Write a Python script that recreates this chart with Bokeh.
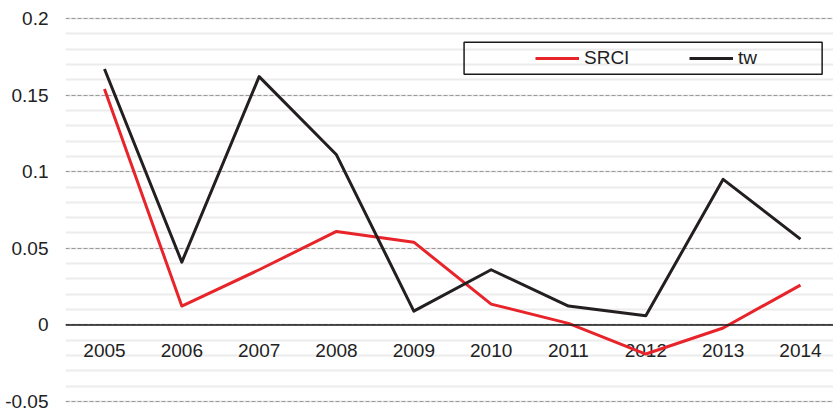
from bokeh.plotting import figure
from bokeh.models import (FixedTicker, NumeralTickFormatter, Span, Legend, LegendItem,
                          BoxAnnotation, ColumnDataSource)
from bokeh.core.properties import value
from bokeh.embed import file_html
from bokeh.resources import INLINE

years = [2005, 2006, 2007, 2008, 2009, 2010, 2011, 2012, 2013, 2014]
year_labels = [str(y) for y in years]
srci = [0.154, 0.0123, 0.036, 0.061, 0.054, 0.0136, 0.001, -0.019, -0.002, 0.026]
tw = [0.167, 0.041, 0.162, 0.111, 0.009, 0.036, 0.0123, 0.006, 0.095, 0.056]
major_ticks = [-0.05, 0.0, 0.05, 0.1, 0.15, 0.2]
minor_ticks = [round(-0.05 + 0.01 * i, 2) for i in range(26)]

FONT = "Liberation Sans"

p = figure(width=833, height=413, output_backend="svg", toolbar_location=None,
           x_range=(2004.496, 2014.427), y_range=(-0.0578, 0.2117),
           min_border_left=65, min_border_right=0, min_border_top=0, min_border_bottom=0,
           outline_line_color=None)

p.xaxis.visible = False
p.xgrid.visible = False

ticker = FixedTicker(ticks=major_ticks, minor_ticks=minor_ticks)
p.yaxis.ticker = ticker
p.yaxis.formatter = NumeralTickFormatter(format="0.[00]")
p.yaxis.axis_line_color = None
p.yaxis.major_tick_line_color = None
p.yaxis.minor_tick_line_color = None
p.yaxis.major_tick_out = 0
p.yaxis.major_tick_in = 0
p.yaxis.minor_tick_out = 0
p.yaxis.major_label_standoff = 17
p.yaxis.major_label_text_font = FONT
p.yaxis.major_label_text_font_size = "19px"
p.yaxis.major_label_text_color = "#222222"

p.ygrid.ticker = ticker
p.ygrid.grid_line_color = "#9a9a9a"
p.ygrid.grid_line_dash = "4 2"
p.ygrid.grid_line_width = 1
p.ygrid.minor_grid_line_color = "#ececec"
p.ygrid.minor_grid_line_width = 2

p.add_layout(Span(location=0, dimension="width", line_color="#1a1a1a", line_width=1.5))

lab = ColumnDataSource(dict(x=years, y=[0] * len(years), t=year_labels))
p.text(x="x", y="y", text="t", source=lab, y_offset=26, text_align="center",
       text_baseline="middle", text_font=value(FONT), text_font_size="19px",
       text_color="#222222")

r1 = p.line(years, srci, line_color="#e8242b", line_width=3, line_join="round")
r2 = p.line(years, tw, line_color="#231f20", line_width=3, line_join="round")

p.add_layout(BoxAnnotation(left=2009.65, right=2014.28, bottom=0.1636, top=0.1845,
                           fill_alpha=0, line_color="#1a1a1a", line_alpha=1.0,
                           line_width=1.5))

legend = Legend(items=[LegendItem(label="SRCI", renderers=[r1]),
                       LegendItem(label="tw", renderers=[r2])],
                orientation="horizontal", location=(464, 338),
                border_line_alpha=0, background_fill_alpha=0,
                padding=6, spacing=5, glyph_width=44, label_standoff=5, label_width=100,
                label_text_font=FONT, label_text_font_size="19px",
                label_text_color="#222222", margin=0)
p.add_layout(legend, "center")

open("out.html", "w").write(file_html(p, INLINE))
